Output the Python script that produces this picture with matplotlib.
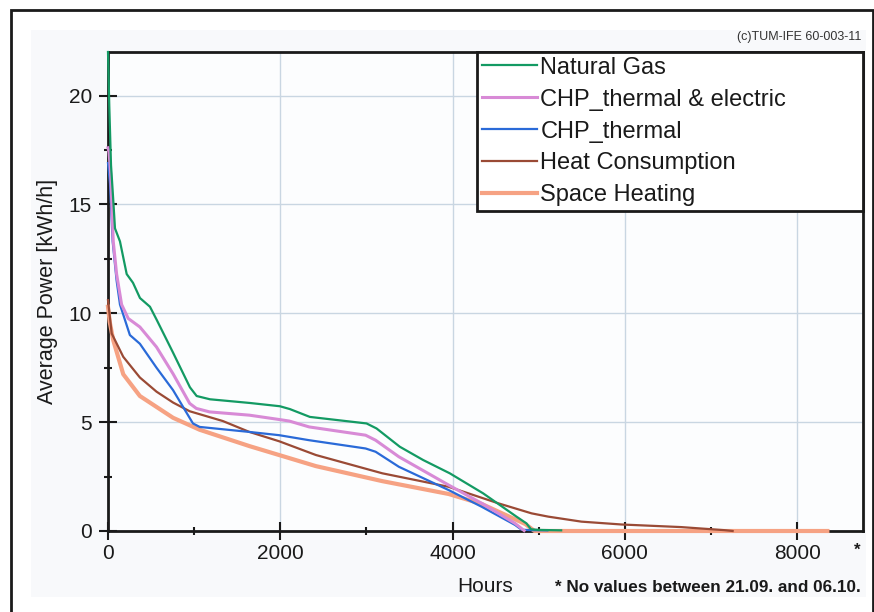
import matplotlib
matplotlib.use("Agg")
import matplotlib.pyplot as plt
from matplotlib.patches import Rectangle
from matplotlib.lines import Line2D
from matplotlib.ticker import MultipleLocator

plt.rcParams['font.family'] = ['Liberation Sans', 'DejaVu Sans']

# ---------------- data ----------------
gas_h = [0, 15, 35, 61, 81, 139, 217, 290, 371, 487, 565, 754, 951, 1029, 1183,
         1647, 1995, 2111, 2343, 3001, 3117, 3387, 3658, 3967, 4354, 4741, 4857,
         4910, 5000, 5260]
gas_v = [22.0, 19.5, 16.8, 15.2, 13.9, 13.3, 11.8, 11.4, 10.7, 10.3, 9.7, 8.2,
         6.6, 6.2, 6.05, 5.88, 5.73, 5.6, 5.24, 4.94, 4.71, 3.87, 3.26, 2.65,
         1.73, 0.66, 0.35, 0.08, 0.05, 0.03]

chp_te_h = [0, 12, 31, 61, 100, 158, 235, 370, 563, 755, 948, 1025, 1179, 1641,
            1988, 2104, 2335, 2990, 3106, 3376, 3954, 4339, 4724, 4830]
chp_te_v = [17.6, 17.4, 16.4, 13.3, 11.8, 10.4, 9.76, 9.37, 8.45, 7.22, 5.86,
            5.63, 5.47, 5.32, 5.12, 5.05, 4.78, 4.4, 4.17, 3.41, 2.11, 1.27,
            0.35, 0.02]

chp_t_h = [0, 23, 54, 100, 139, 254, 370, 563, 755, 986, 1064, 1641, 1988,
           2335, 2990, 3106, 3376, 3954, 4339, 4724, 4800, 4900, 5100]
chp_t_v = [16.9, 15.95, 13.3, 11.5, 10.4, 9.0, 8.6, 7.5, 6.47, 4.94, 4.78, 4.55,
           4.4, 4.17, 3.79, 3.64, 2.95, 1.88, 1.11, 0.28, 0.06, 0.04, 0.03]

heat_h = [0, 43, 177, 370, 563, 755, 948, 1333, 1641, 1988, 2413, 3184, 3954,
          4532, 4917, 5110, 5495, 5957, 6651, 7152, 7250]
heat_v = [10.6, 9.07, 8.0, 7.05, 6.4, 5.9, 5.5, 5.05, 4.55, 4.12, 3.49, 2.65,
          2.03, 1.27, 0.81, 0.66, 0.43, 0.3, 0.18, 0.04, 0.0]

space_h = [0, 20, 61, 177, 370, 755, 1064, 1333, 1641, 2413, 3184, 3954, 4339,
           4844, 4950, 8350]
space_v = [10.3, 9.6, 8.76, 7.2, 6.2, 5.2, 4.65, 4.3, 3.9, 2.98, 2.29, 1.7,
           1.24, 0.32, 0.0, 0.0]

series_labels = ["Natural Gas", "CHP_thermal & electric", "CHP_thermal",
                 "Heat Consumption", "Space Heating"]
series_colors = ["#139a63", "#d88ad6", "#2a6ad8", "#9a4a35", "#f6a283"]
series_widths = [1.6, 2.2, 1.6, 1.6, 3.0]

x_ticks = [0, 2000, 4000, 6000, 8000]
y_ticks = [0, 5, 10, 15, 20]

# ---------------- figure ----------------
W, H = 874, 612
fig = plt.figure(figsize=(W / 100, H / 100), dpi=100)
fig.patch.set_facecolor("white")

def px(x, y):
    return x / W, 1 - y / H

# faint inner panel and outer frame
x0, y0 = px(31, 597)
x1, y1 = px(866, 30)
fig.patches.append(Rectangle((x0, y0), x1 - x0, y1 - y0, transform=fig.transFigure,
                             facecolor="#f8f9fb", edgecolor="none", zorder=-10))
fx0, fy0 = px(11, 650)
fx1, fy1 = px(873, 10)
fig.patches.append(Rectangle((fx0, fy0), fx1 - fx0, fy1 - fy0, transform=fig.transFigure,
                             facecolor="none", edgecolor="#1a1a1a", linewidth=2.0,
                             zorder=-5))

left, right, top, bottom = 108, 862.7, 52, 531
ax = fig.add_axes([left / W, 1 - bottom / H, (right - left) / W, (bottom - top) / H])
ax.set_facecolor("#fcfdfe")

data = [(gas_h, gas_v), (chp_te_h, chp_te_v), (chp_t_h, chp_t_v),
        (heat_h, heat_v), (space_h, space_v)]
handles = []
for i in reversed(range(5)):
    h, v = data[i]
    ax.plot(h, v, color=series_colors[i], lw=series_widths[i],
            solid_joinstyle="round", zorder=3 + (4 - i) * 0.1, clip_on=False)
for i in range(5):
    handles.append(Line2D([], [], color=series_colors[i], lw=series_widths[i]))

ax.set_xlim(0, 8760)
ax.set_ylim(0, 22)
ax.set_xticks(x_ticks)
ax.set_yticks(y_ticks)
ax.xaxis.set_minor_locator(MultipleLocator(1000))
ax.yaxis.set_minor_locator(MultipleLocator(2.5))
ax.tick_params(which="major", direction="inout", length=13, width=1.5,
               color="#1a1a1a", labelsize=15, labelcolor="#1a1a1a")
ax.tick_params(axis="y", which="major", pad=5)
ax.tick_params(axis="x", which="major", pad=3)
ax.tick_params(which="minor", direction="inout", length=6, width=1.5,
               color="#1a1a1a")
ax.grid(True, which="major", color="#c9d6e2", lw=1.0)
ax.set_axisbelow(True)
for s in ax.spines.values():
    s.set_linewidth(2.0)
    s.set_color("#1a1a1a")

ax.set_ylabel("Average Power [kWh/h]", fontsize=15.5, color="#1a1a1a", labelpad=8)
ax.set_xlabel("Hours", fontsize=15, color="#1a1a1a", labelpad=10)

leg_x0 = (477 - left) / (right - left)
leg = ax.legend(handles, series_labels, loc="upper left",
                bbox_to_anchor=(leg_x0, 1.0, 1 - leg_x0, 0.0), mode="expand",
                borderaxespad=0, fancybox=False, frameon=True, fontsize=17,
                handlelength=2.33, handletextpad=0.15, labelspacing=0.42,
                borderpad=0.2)
leg.get_frame().set_edgecolor("#1a1a1a")
leg.get_frame().set_linewidth(2.0)
leg.get_frame().set_facecolor("white")
leg.get_frame().set_alpha(1)
for t in leg.get_texts():
    t.set_color("#1a1a1a")

tx, ty = px(861, 37)
fig.text(tx, ty, "(c)TUM-IFE 60-003-11", fontsize=9, ha="right", va="center",
         color="#333333")
tx, ty = px(555, 587)
fig.text(tx, ty, "* No values between 21.09. and 06.10.", fontsize=12.3,
         fontweight="bold", ha="left", va="center", color="#1a1a1a")
tx, ty = px(857, 550)
fig.text(tx, ty, "*", fontsize=12, fontweight="bold", ha="center", va="center",
         color="#1a1a1a")

fig.savefig("out.png", dpi=100, facecolor=fig.get_facecolor())
